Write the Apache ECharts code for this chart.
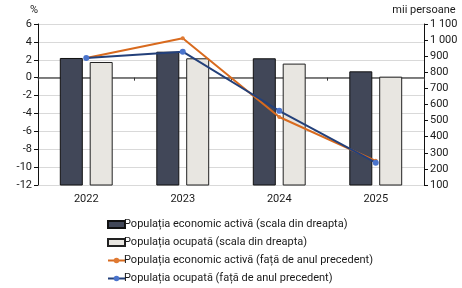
<!DOCTYPE html>
<html lang="ro">
<head>
<meta charset="UTF-8">
<title>Populația</title>
<script src="https://cdn.jsdelivr.net/npm/echarts@6/dist/echarts.min.js"></script>
<style>
  html, body { margin: 0; padding: 0; background: #fff; }
  #chart { width: 462px; height: 288px; }
</style>
</head>
<body>
<div id="chart"></div>
<script>
  // ani
  var years = ['2022', '2023', '2024', '2025'];
  // mii persoane (scala din dreapta)
  var activaMii = [889, 928, 887, 806];
  var ocupataMii = [864, 887, 854, 773];
  // % fata de anul precedent
  var activaPct = [2.2, 4.4, -4.4, -9.3];
  var ocupataPct = [2.2, 2.9, -3.7, -9.5];

  var names = [
    'Populația economic activă (scala din dreapta)',
    'Populația ocupată (scala din dreapta)',
    'Populația economic activă (față de anul precedent)',
    'Populația ocupată (față de anul precedent)'
  ];

  var font = 'Roboto';
  var txt = '#1a1a1a';

  var chart = echarts.init(document.getElementById('chart'));
  var option = {
    animation: false,
    textStyle: { fontFamily: font },
    grid: { left: 38, right: 38, top: 24, bottom: 103 },
    legend: {
      orient: 'vertical',
      left: 107,
      top: 219,
      padding: 0,
      itemGap: 7,
      itemWidth: 17,
      itemHeight: 7,
      textStyle: { fontFamily: font, fontSize: 11, lineHeight: 11, color: txt, padding: [0, 0, 0, -6] },
      data: [
        { name: names[0], icon: 'rect' },
        { name: names[1], icon: 'rect' },
        names[2],
        names[3]
      ]
    },
    xAxis: [{
      type: 'category',
      data: years,
      axisLine: { show: false },
      axisTick: { show: false },
      axisLabel: { fontFamily: font, fontSize: 11, color: txt, margin: 9 }
    }, {
      type: 'category',
      data: years,
      position: 'bottom',
      axisLine: { show: true, onZero: true, onZeroAxisIndex: 0, lineStyle: { color: '#5a5a5a', width: 1.5 } },
      axisTick: { show: true, length: 3, lineStyle: { color: '#333' } },
      axisLabel: { show: false }
    }],
    yAxis: [{
      type: 'value',
      min: -12, max: 6, interval: 2,
      name: '%',
      nameLocation: 'end',
      nameGap: 8,
      nameTextStyle: { fontFamily: font, fontSize: 11, color: txt, align: 'right' },
      axisLine: { show: true, lineStyle: { color: '#111' } },
      axisTick: { show: true, length: 4, lineStyle: { color: '#111' } },
      axisLabel: { fontFamily: font, fontSize: 11, color: txt, margin: 6 },
      splitLine: { show: true, lineStyle: { color: '#d9d9d9' } }
    }, {
      type: 'value',
      min: 100, max: 1100, interval: 100,
      name: 'mii persoane',
      nameLocation: 'end',
      nameGap: 8,
      nameTextStyle: { fontFamily: font, fontSize: 11, color: txt },
      axisLine: { show: true, lineStyle: { color: '#111' } },
      axisTick: { show: true, length: 4, lineStyle: { color: '#111' } },
      axisLabel: {
        fontFamily: font, fontSize: 11, color: txt, margin: 6,
        formatter: function (v) { return String(v).replace(/\B(?=(\d{3})+(?!\d))/g, ' '); }
      },
      splitLine: { show: false }
    }],
    series: [{
      name: names[0],
      type: 'bar',
      yAxisIndex: 1,
      data: activaMii,
      barWidth: 23,
      barGap: '30%',
      itemStyle: { color: '#414758', borderColor: '#111', borderWidth: 1 }
    }, {
      name: names[1],
      type: 'bar',
      yAxisIndex: 1,
      data: ocupataMii,
      barWidth: 23,
      itemStyle: { color: '#e8e6e1', borderColor: '#222', borderWidth: 1 }
    }, {
      name: names[2],
      type: 'line',
      yAxisIndex: 0,
      data: activaPct,
      symbol: 'circle',
      symbolSize: 4,
      lineStyle: { color: '#d86a1e', width: 2 },
      itemStyle: { color: '#e07a33' }
    }, {
      name: names[3],
      type: 'line',
      yAxisIndex: 0,
      data: ocupataPct,
      symbol: 'circle',
      symbolSize: 6,
      lineStyle: { color: '#23407a', width: 2 },
      itemStyle: { color: '#4a74cc' }
    }]
  };
  chart.setOption(option);
</script>
</body>
</html>
